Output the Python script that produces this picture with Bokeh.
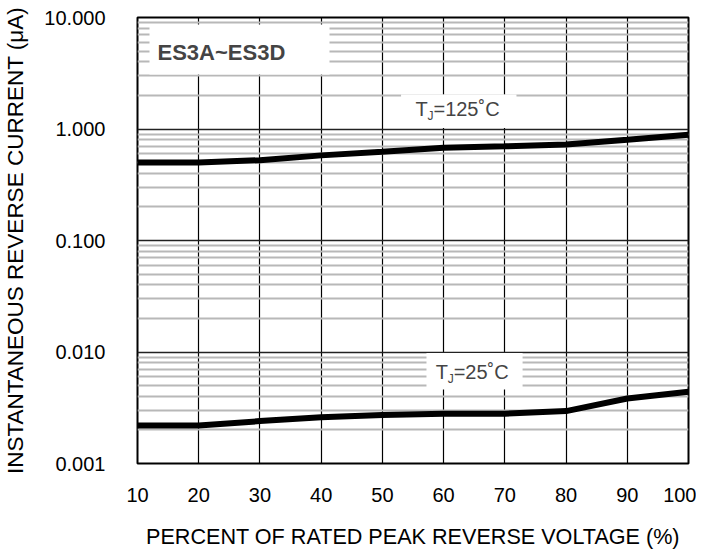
from bokeh.plotting import figure
from bokeh.models import (Range1d, FixedTicker, CustomJSTickFormatter, Label,
                          BoxAnnotation, ColumnDataSource)
from bokeh.embed import file_html
from bokeh.resources import INLINE

# ---- data ----
voltage_pct = [10, 20, 30, 40, 50, 60, 70, 80, 90, 100]
ir_125c = [0.50, 0.50, 0.525, 0.58, 0.625, 0.68, 0.70, 0.725, 0.80, 0.89]
ir_25c = [0.00219, 0.00219, 0.0024, 0.0026, 0.00272, 0.0028, 0.0028, 0.00295, 0.00383, 0.0044]

x_ticks = [10, 20, 30, 40, 50, 60, 70, 80, 90, 100]
y_ticks = [0.001, 0.01, 0.1, 1, 10]
y_minor = [m * d for d in [0.001, 0.01, 0.1, 1] for m in range(2, 10)]

title_text = "ES3A~ES3D"
x_label = "PERCENT OF RATED PEAK REVERSE VOLTAGE (%)"
y_label = "INSTANTANEOUS REVERSE CURRENT (\u03bcA)"

FONT = "Liberation Sans"

p = figure(width=696, height=551, y_axis_type="log",
           x_range=Range1d(10, 100), y_range=Range1d(0.001, 10),
           output_backend="svg", toolbar_location=None,
           min_border_left=137, min_border_right=8, min_border_top=17,
           min_border_bottom=88)
p.outline_line_color = "black"
p.outline_line_width = 2
p.background_fill_color = "white"
p.border_fill_color = "white"

p.xaxis.ticker = FixedTicker(ticks=x_ticks)
p.yaxis.ticker = FixedTicker(ticks=y_ticks, minor_ticks=y_minor)
p.yaxis.formatter = CustomJSTickFormatter(code="return tick.toFixed(3);")

for ax in (p.xaxis, p.yaxis):
    ax.axis_line_color = None
    ax.major_tick_line_color = None
    ax.minor_tick_line_color = None
    ax.major_tick_out = 0
    ax.minor_tick_out = 0
    ax.major_label_text_font = FONT
    ax.major_label_text_font_size = "20px"
    ax.major_label_text_color = "black"
    ax.axis_label_text_font = FONT
    ax.axis_label_text_font_style = "normal"
    ax.axis_label_text_color = "black"

p.xaxis.axis_label_text_font_size = "21.6px"
p.yaxis.axis_label_text_font_size = "22.5px"
p.xaxis.axis_label = x_label
p.yaxis.axis_label = y_label
p.xaxis.major_label_standoff = 24
p.xaxis.axis_label_standoff = 19
p.yaxis.major_label_standoff = 32
p.yaxis.axis_label_standoff = 13

p.xgrid.grid_line_color = "black"
p.xgrid.grid_line_width = 1.2
p.ygrid.grid_line_color = "#222222"
p.ygrid.grid_line_width = 1.5
p.ygrid.minor_grid_line_color = "#b8b8b8"
p.ygrid.minor_grid_line_width = 2

# curves
src = ColumnDataSource(dict(x=voltage_pct, hot=ir_125c, cold=ir_25c))
p.line("x", "hot", source=src, line_color="black", line_width=6)
p.line("x", "cold", source=src, line_color="black", line_width=6)

# white label boxes
for l, r, b, t in [(11.96, 41.36, 3.08, 8.65), (53.05, 71.9, 1.02, 2.04),
                   (57.2, 72.9, 0.00461, 0.0098)]:
    p.add_layout(BoxAnnotation(left=l, right=r, bottom=b, top=t,
                               fill_color="white", fill_alpha=1, line_color=None))

p.add_layout(Label(x=13.27, y=4.85, text=title_text, text_font=FONT,
                   text_font_size="22px", text_font_style="bold",
                   text_baseline="middle", text_align="left"))


def tj_label(x, y, rest):
    p.add_layout(Label(x=x, y=y, text="T", text_font=FONT, text_font_size="20px",
                       text_baseline="middle", text_align="left"))
    p.add_layout(Label(x=x, y=y, x_offset=12, y_offset=-7, text="J", text_font=FONT,
                       text_font_size="12px", text_baseline="middle", text_align="left"))
    p.add_layout(Label(x=x, y=y, x_offset=18, text=rest, text_font=FONT,
                       text_font_size="20px", text_baseline="middle", text_align="left"))


tj_label(55.4, 1.5, "=125\u02daC")
tj_label(58.7, 0.00662, "=25\u02daC")

open("out.html", "w").write(file_html(p, INLINE))
